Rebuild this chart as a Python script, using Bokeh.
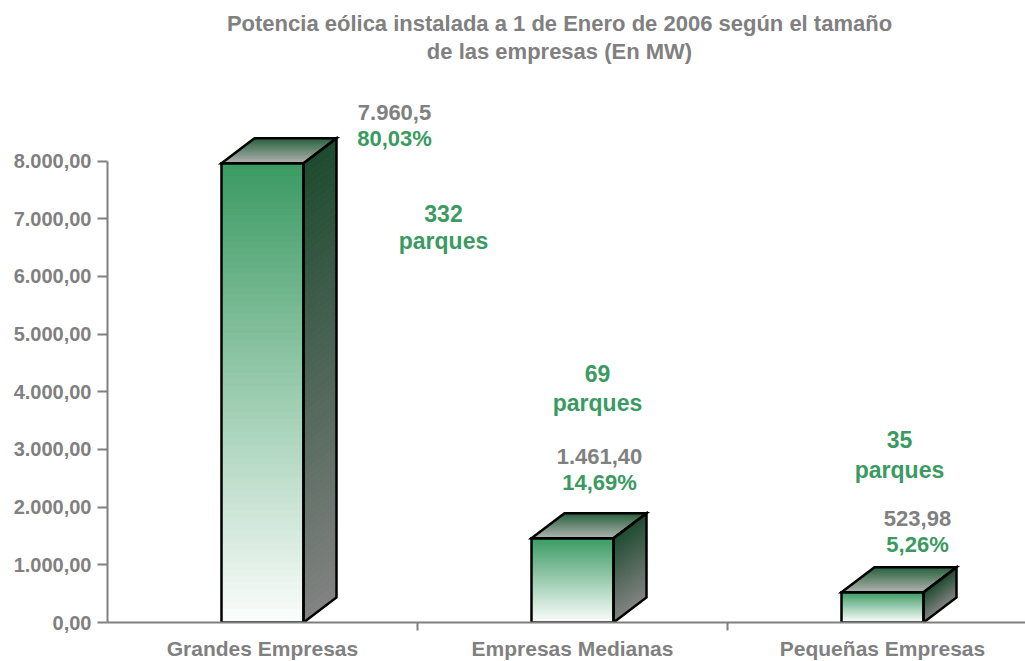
import numpy as np
from bokeh.plotting import figure
from bokeh.models import Range1d, FixedTicker, ColumnDataSource
from bokeh.core.properties import value
from bokeh.embed import file_html
from bokeh.resources import INLINE

# ---------------- data ----------------
categories = ["Grandes Empresas", "Empresas Medianas", "Pequeñas Empresas"]
potencia_mw = [7960.5, 1461.40, 523.98]
potencia_labels = ["7.960,5", "1.461,40", "523,98"]
porcentaje_labels = ["80,03%", "14,69%", "5,26%"]
parques = ["332", "69", "35"]
y_ticks = [0, 1000, 2000, 3000, 4000, 5000, 6000, 7000, 8000]
y_tick_labels = ["0,00", "1.000,00", "2.000,00", "3.000,00", "4.000,00",
                 "5.000,00", "6.000,00", "7.000,00", "8.000,00"]
title_lines = ["Potencia eólica instalada a 1 de Enero de 2006 según el tamaño",
               "de las empresas (En MW)"]

# ---------------- layout ----------------
W, H = 1025, 665
LEFT = 107
FRAME_BOTTOM = 622
BOTTOM = H - FRAME_BOTTOM
PX_X = 310.0            # px per category
PX_Y = 461.5 / 8000.0   # px per MW
x_end = (W - LEFT) / PX_X
y_end = FRAME_BOTTOM / PX_Y
TEXT_SHIFT = 9          # svg baseline correction (px)

def dx(px):
    return px / PX_X

def dy(px):
    return px / PX_Y

def sx_(px):   # picture x -> data x
    return (px - LEFT) / PX_X

def sy_(px):   # picture y -> data y
    return (FRAME_BOTTOM - (px - TEXT_SHIFT)) / PX_Y

bar_half = dx(41)
depth_x = dx(33)
depth_y = dy(25)

GREY = "#808080"
GREEN = "#3a9a62"
FONT = "Liberation Sans"

p = figure(width=W, height=H, output_backend="svg", toolbar_location=None,
           x_range=Range1d(0, x_end), y_range=Range1d(0, y_end),
           min_border_left=LEFT, min_border_right=0, min_border_top=0,
           min_border_bottom=BOTTOM, background_fill_color="white",
           border_fill_color="white")
p.outline_line_color = None
p.grid.visible = False


def mix(c1, c2, t):
    a = np.array([int(c1[i:i + 2], 16) for i in (1, 3, 5)], float)
    b = np.array([int(c2[i:i + 2], 16) for i in (1, 3, 5)], float)
    c = a + (b - a) * t
    return "#%02x%02x%02x" % tuple(int(round(v)) for v in c)

N = 70
fx, fy, fc = [], [], []
sx, sy, sc = [], [], []
tx, ty, tc = [], [], []
ox, oy = [], []
for i, v in enumerate(potencia_mw):
    c = i + 0.5
    xl, xr = c - bar_half, c + bar_half
    for k in range(N):
        t0, t1 = k / N, (k + 1) / N
        y0, y1 = v * (1 - t0), v * (1 - t1)
        fx.append([xl, xr, xr, xl]); fy.append([y0, y0, y1, y1])
        fc.append(mix("#3a9a62", "#fbfdfc", (t0 + t1) / 2))
        sx.append([xr, xr + depth_x, xr + depth_x, xr])
        sy.append([y0, y0 + depth_y, y1 + depth_y, y1])
        sc.append(mix("#1d4a2f", "#828282", (t0 + t1) / 2))
        tx.append([xl + t0 * depth_x, xr + t0 * depth_x, xr + t1 * depth_x, xl + t1 * depth_x])
        ty.append([v + t0 * depth_y, v + t0 * depth_y, v + t1 * depth_y, v + t1 * depth_y])
        tc.append(mix("#b4b6b4", "#2c6442", (t0 + t1) / 2))
    ox.append([xl, xr, xr, xl]); oy.append([0, 0, v, v])
    ox.append([xr, xr + depth_x, xr + depth_x, xr]); oy.append([0, depth_y, v + depth_y, v])
    ox.append([xl, xr, xr + depth_x, xl + depth_x]); oy.append([v, v, v + depth_y, v + depth_y])

for xs, ys, cs in ((fx, fy, fc), (sx, sy, sc), (tx, ty, tc)):
    p.patches(xs=xs, ys=ys, fill_color=cs, line_color=cs, line_width=1)
p.patches(xs=ox, ys=oy, fill_color=None, line_color="black", line_width=2.5,
          line_join="miter")

# ---------------- axes ----------------
p.yaxis.ticker = FixedTicker(ticks=y_ticks)
p.yaxis.major_label_overrides = {t: l for t, l in zip(y_ticks, y_tick_labels)}
p.yaxis.bounds = (0, 8000)
p.yaxis.minor_tick_line_color = None
p.yaxis.major_tick_in = 0
p.yaxis.major_tick_out = 10
p.yaxis.major_label_standoff = 6

p.xaxis.ticker = FixedTicker(ticks=[i + 0.5 for i in range(len(categories))],
                             minor_ticks=[1, 2])
p.xaxis.major_label_overrides = {i + 0.5: c for i, c in enumerate(categories)}
p.xaxis.minor_tick_in = 0
p.xaxis.minor_tick_out = 8
p.xaxis.major_label_standoff = 6

for ax in (p.xaxis, p.yaxis):
    ax.axis_line_color = GREY
    ax.axis_line_width = 2
    ax.major_tick_line_width = 2
    ax.minor_tick_line_width = 2
    ax.major_label_text_font = FONT
    ax.major_label_text_font_style = "bold"
    ax.major_label_text_color = GREY
p.yaxis.major_tick_line_color = GREY
p.xaxis.major_tick_line_color = None
p.xaxis.minor_tick_line_color = GREY
p.yaxis.major_label_text_font_size = "20px"
p.xaxis.major_label_text_font_size = "21px"

# ---------------- texts ----------------
def txt(xs, ys, texts, color, size):
    src = ColumnDataSource(dict(x=xs, y=ys, t=texts))
    p.text(x="x", y="y", text="t", source=src, text_color=color,
           text_font=value(FONT), text_font_style="bold",
           text_font_size=size, text_align="center",
           text_baseline="alphabetic")

txt([sx_(559)] * 2, [sy_(32), sy_(60)], title_lines, GREY, "22px")

val_cx = [394, 599, 917]
val_by = [121, 465, 527]
pct_by = [147, 491, 553]
prq_cx = [443, 597, 899]
num_by = [222, 382, 448]
prq_by = [249, 411, 478]

txt([sx_(x) for x in val_cx], [sy_(y) for y in val_by], potencia_labels, GREY, "22px")
txt([sx_(x) for x in val_cx], [sy_(y) for y in pct_by], porcentaje_labels, GREEN, "22px")
txt([sx_(x) for x in prq_cx], [sy_(y) for y in num_by], parques, GREEN, "23px")
txt([sx_(x) for x in prq_cx], [sy_(y) for y in prq_by], ["parques"] * 3, GREEN, "23px")

open("out.html", "w").write(file_html(p, INLINE))
